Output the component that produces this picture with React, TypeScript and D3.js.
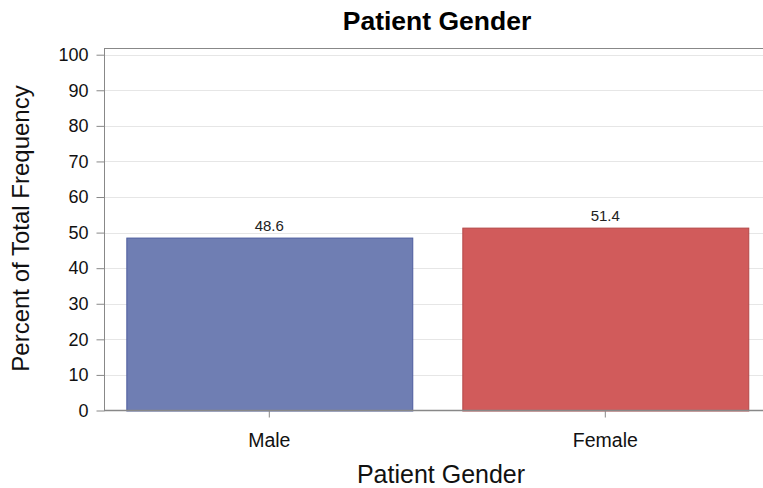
import React, { useEffect, useRef } from "react";
import * as d3 from "d3";

const categories: string[] = ["Male", "Female"];
const percents: number[] = [48.6, 51.4];
const yTicks: number[] = [0, 10, 20, 30, 40, 50, 60, 70, 80, 90, 100];
const barFills: string[] = ["#6f7eb3", "#d15b5b"];
const barStrokes: string[] = ["#4d5c9e", "#b34848"];

const W = 763;
const H = 488;
const FONT = "'Liberation Sans', Arial, sans-serif";

function App() {
  const ref = useRef<SVGSVGElement>(null);

  useEffect(() => {
    const svg = d3.select(ref.current);
    svg.selectAll("*").remove();

    const left = 104;
    const top = 48;
    const bottom = 410.5;

    // band centers end up at ~269 and ~605
    const x = d3
      .scaleBand()
      .domain(categories)
      .range([101.3, 773.3])
      .paddingInner(0.149)
      .paddingOuter(0.0745);

    const y = d3.scaleLinear().domain([0, 100]).range([bottom, 54.7]);

    // grid
    svg
      .append("g")
      .selectAll("line")
      .data(yTicks.filter((d) => d > 0))
      .join("line")
      .attr("x1", left)
      .attr("x2", W)
      .attr("y1", (d) => Math.round(y(d)) + 0.5)
      .attr("y2", (d) => Math.round(y(d)) + 0.5)
      .attr("stroke", "#e6e6e6")
      .attr("stroke-width", 1);

    // bars
    svg
      .append("g")
      .selectAll("rect")
      .data(percents)
      .join("rect")
      .attr("x", (d, i) => x(categories[i])! + 0.5)
      .attr("y", (d) => y(d) + 0.5)
      .attr("width", x.bandwidth())
      .attr("height", (d) => bottom - y(d))
      .attr("fill", (d, i) => barFills[i])
      .attr("stroke", (d, i) => barStrokes[i])
      .attr("stroke-width", 1);

    // value labels
    svg
      .append("g")
      .selectAll("text")
      .data(percents)
      .join("text")
      .attr("x", (d, i) => x(categories[i])! + x.bandwidth() / 2)
      .attr("y", (d) => y(d) - 7)
      .attr("text-anchor", "middle")
      .attr("font-family", FONT)
      .attr("font-size", 15)
      .attr("fill", "#222")
      .text((d) => d.toFixed(1));

    // top border
    svg
      .append("line")
      .attr("x1", left)
      .attr("x2", W)
      .attr("y1", top + 0.5)
      .attr("y2", top + 0.5)
      .attr("stroke", "#888");

    const yAxis = svg
      .append("g")
      .attr("transform", `translate(${left + 0.5},0)`)
      .call(d3.axisLeft(y).tickValues(yTicks).tickSize(8).tickSizeOuter(0).tickPadding(8));
    yAxis.select(".domain").remove();
    yAxis.selectAll(".tick line").attr("stroke", "#888");
    yAxis
      .selectAll(".tick text")
      .attr("font-family", FONT)
      .attr("font-size", 18)
      .attr("fill", "#111");
    svg
      .append("line")
      .attr("x1", left + 0.5)
      .attr("x2", left + 0.5)
      .attr("y1", top)
      .attr("y2", bottom)
      .attr("stroke", "#888");

    const xAxis = svg
      .append("g")
      .attr("transform", `translate(0,${bottom})`)
      .call(d3.axisBottom(x).tickSize(7).tickSizeOuter(0).tickPadding(0));
    xAxis.select(".domain").remove();
    xAxis.selectAll(".tick line").attr("stroke", "#888");
    xAxis
      .selectAll(".tick text")
      .attr("dy", null)
      .attr("y", 36)
      .attr("font-family", FONT)
      .attr("font-size", 19.5)
      .attr("fill", "#111");
    svg
      .append("line")
      .attr("x1", left)
      .attr("x2", W)
      .attr("y1", bottom)
      .attr("y2", bottom)
      .attr("stroke", "#888")
      .attr("stroke-width", 1.5);

    // title
    svg
      .append("text")
      .attr("x", 437)
      .attr("y", 30)
      .attr("text-anchor", "middle")
      .attr("font-family", FONT)
      .attr("font-weight", "bold")
      .attr("font-size", 26.5)
      .attr("fill", "#000")
      .text("Patient Gender");

    // axis titles
    svg
      .append("text")
      .attr("x", 441)
      .attr("y", 483)
      .attr("text-anchor", "middle")
      .attr("font-family", FONT)
      .attr("font-size", 25)
      .attr("fill", "#111")
      .text("Patient Gender");

    svg
      .append("text")
      .attr("transform", `translate(29,228.5) rotate(-90)`)
      .attr("text-anchor", "middle")
      .attr("font-family", FONT)
      .attr("font-size", 24)
      .attr("fill", "#111")
      .text("Percent of Total Frequency");
  }, []);

  return (
    <svg
      ref={ref}
      width={W}
      height={H}
      style={{ position: "absolute", left: 0, top: 0, background: "#fff" }}
    />
  );
}

export default App;
